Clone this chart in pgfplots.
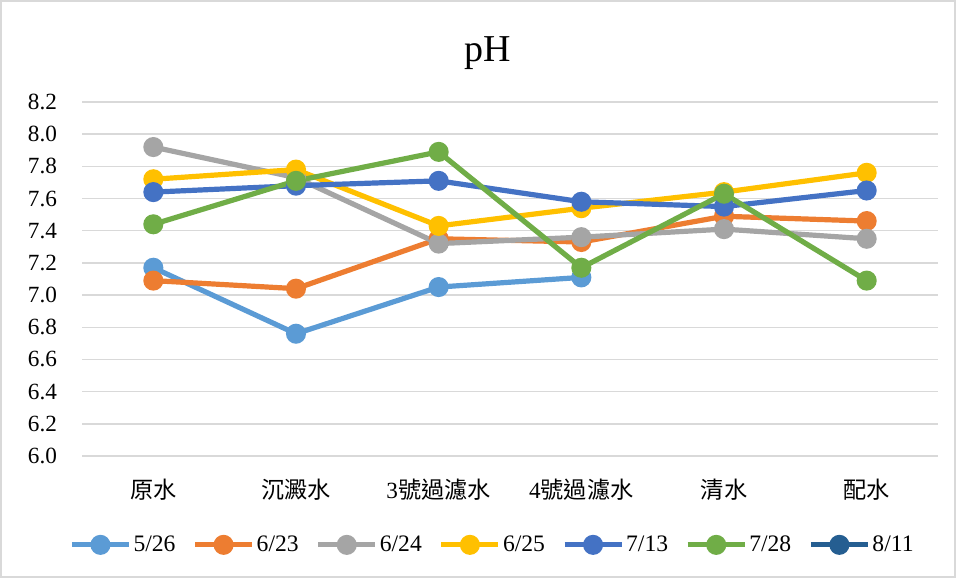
\documentclass[border=0pt]{standalone}
\usepackage{pgfplots}
\pgfplotsset{compat=1.18}
\usepackage{fontspec}
\setmainfont{Liberation Serif}
\newfontfamily\cjk{Noto Sans CJK TC}
\definecolor{c1}{HTML}{5B9BD5}
\definecolor{c2}{HTML}{ED7D31}
\definecolor{c3}{HTML}{A5A5A5}
\definecolor{c4}{HTML}{FFC000}
\definecolor{c5}{HTML}{4472C4}
\definecolor{c6}{HTML}{70AD47}
\definecolor{c7}{HTML}{255E91}
\definecolor{gridc}{HTML}{D9D9D9}
\begin{document}
\begin{tikzpicture}
\useasboundingbox (0,0) rectangle (478pt,289pt);
\draw[gridc, line width=0.75pt] (0.5pt,0.5pt) rectangle (477.5pt,288.5pt);
\begin{axis}[
  at={(41pt,61pt)}, anchor=south west,
  scale only axis, width=428pt, height=177pt,
  xmin=-0.5, xmax=5.5, ymin=6, ymax=8.2,
  xtick={0,1,2,3,4,5},
  xticklabels={{\cjk 原水},{\cjk 沉澱水},{3\cjk 號過濾水},{4\cjk 號過濾水},{\cjk 清水},{\cjk 配水}},
  ytick={6.0,6.2,6.4,6.6,6.8,7.0,7.2,7.4,7.6,7.8,8.0,8.2},
  /pgf/number format/fixed, /pgf/number format/fixed zerofill, /pgf/number format/precision=1,
  /pgf/number format/assume math mode=true,
  yticklabel style={anchor=east, xshift=-9pt},
  xticklabel style={anchor=center, yshift=-17pt},
  tick style={draw=none},
  axis line style={draw=none},
  ymajorgrids, grid style={gridc, line width=0.75pt},
  every tick label/.append style={font=\rmfamily\fontsize{11.6pt}{13pt}\selectfont},
  title={pH},
  every axis title/.style={at={(0.4737,1)}, anchor=base, yshift=20.5pt, font=\rmfamily\fontsize{19pt}{21pt}\selectfont},
  legend columns=7,
  legend style={at={(0.4795,-0.251)}, anchor=center, draw=none, fill=none,
    font=\rmfamily\fontsize{11.8pt}{13pt}\selectfont,
    nodes={inner xsep=1pt},
    /tikz/every even column/.append style={column sep=7.5pt},
    /tikz/every odd column/.append style={column sep=0pt}},
  legend image code/.code={\draw[mark repeat=2,mark phase=2] plot coordinates {(0pt,0pt)(14.25pt,0pt)(28.5pt,0pt)};},
  every axis plot/.append style={line width=2.6pt, mark=*, mark size=3.7pt},
  clip=false,
]
\addplot[c1, mark options={fill=c1}] coordinates {(0,7.17)(1,6.76)(2,7.05)(3,7.11)};
\addlegendentry{5/26}
\addplot[c2, mark options={fill=c2}] coordinates {(0,7.09)(1,7.04)(2,7.35)(3,7.33)(4,7.49)(5,7.46)};
\addlegendentry{6/23}
\addplot[c3, mark options={fill=c3}] coordinates {(0,7.92)(1,7.73)(2,7.32)(3,7.36)(4,7.41)(5,7.35)};
\addlegendentry{6/24}
\addplot[c4, mark options={fill=c4}] coordinates {(0,7.72)(1,7.78)(2,7.43)(3,7.54)(4,7.64)(5,7.76)};
\addlegendentry{6/25}
\addplot[c5, mark options={fill=c5}] coordinates {(0,7.64)(1,7.68)(2,7.71)(3,7.58)(4,7.55)(5,7.65)};
\addlegendentry{7/13}
\addplot[c6, mark options={fill=c6}] coordinates {(0,7.44)(1,7.71)(2,7.89)(3,7.17)(4,7.63)(5,7.09)};
\addlegendentry{7/28}
\addlegendimage{c7, line width=2.6pt, mark=*, mark size=3.7pt, mark options={fill=c7}}
\addlegendentry{8/11}
\end{axis}
\end{tikzpicture}
\end{document}
